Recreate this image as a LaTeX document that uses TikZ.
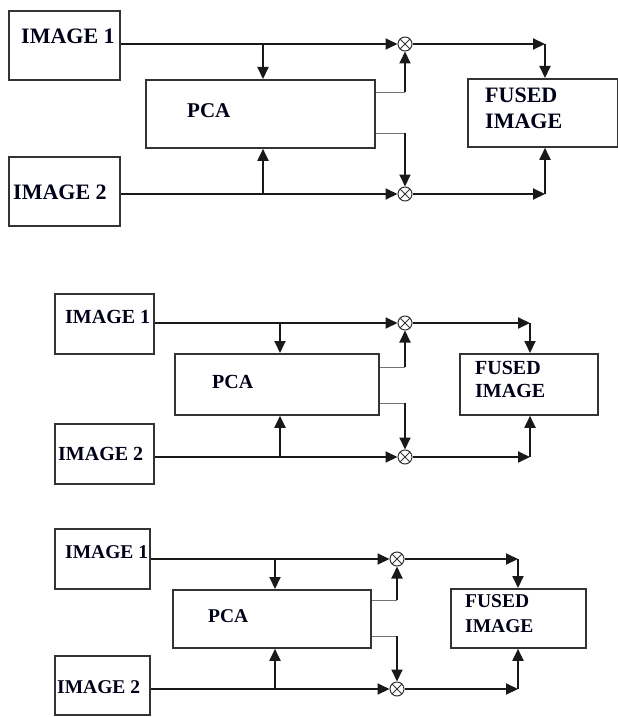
\documentclass[tikz,border=0pt]{standalone}
\usepackage{fontspec}
\setmainfont{Liberation Serif}
\usetikzlibrary{arrows.meta}
\begin{document}
\begin{tikzpicture}[x=1pt,y=-1pt,
  box/.style={draw=black!80, line width=1.8pt, inner sep=0pt, anchor=north west},
  lbl/.style={anchor=base west, inner sep=0pt, text=black!90!blue},
  big/.style={font=\bfseries\fontsize{22}{26}\selectfont},
  mid/.style={font=\bfseries\fontsize{20}{24}\selectfont},
  sml/.style={font=\bfseries\fontsize{19.5}{23}\selectfont},
  mult/.style={circle, draw=black!80, line width=1pt, minimum size=14pt, inner sep=0pt,
    path picture={\draw[line width=0.9pt] (path picture bounding box.north west) -- (path picture bounding box.south east)
      (path picture bounding box.north east) -- (path picture bounding box.south west);}},
  ln/.style={line width=1.9pt, draw=black!90},
  arr/.style={ln, -{Triangle[length=12pt,width=11pt]}},
  thinl/.style={line width=0.9pt, draw=black!55}
]
\useasboundingbox (0,0) rectangle (618,717);

% ---------- Diagram 1 ----------
\node[box, minimum width=111pt, minimum height=69pt] (a1A) at (8,10) {};
\node[lbl, big] (t1A) at (21,44) {IMAGE 1};
\node[box, minimum width=111pt, minimum height=69pt] (a2A) at (8,156) {};
\node[lbl, big] (t2A) at (13,199) {IMAGE 2};
\node[box, minimum width=229pt, minimum height=68pt] (pA) at (145,79) {};
\node[lbl, font=\bfseries\fontsize{21}{25}\selectfont] (tpA) at (187,117) {PCA};
\node[box, minimum width=150pt, minimum height=68pt] (fA) at (467,78) {};
\node[lbl, big] (tf1A) at (485,102) {FUSED};
\node[lbl, big] (tf2A) at (485,128) {IMAGE};
\node[mult] (m1A) at (405,44) {};
\node[mult] (m2A) at (405,194) {};
\coordinate (j1A) at (263,44);
\coordinate (k1A) at (263,194);
\coordinate (o1A) at (405,92);
\coordinate (o2A) at (405,133);
\coordinate (c1A) at (545,44);
\coordinate (c2A) at (545,194);
\draw[arr] (a1A.east |- m1A) -- (m1A.west);
\draw[arr] (j1A) -- (j1A |- pA.north);
\draw[arr] (a2A.east |- m2A) -- (m2A.west);
\draw[arr] (k1A) -- (k1A |- pA.south);
\draw[thinl] (pA.east |- o1A) -- (o1A);
\draw[arr] (o1A) -- (m1A.south);
\draw[thinl] (pA.east |- o2A) -- (o2A);
\draw[arr] (o2A) -- (m2A.north);
\draw[arr] (m1A.east) -- (c1A);
\draw[arr] (c1A) -- (c1A |- fA.north);
\draw[arr] (m2A.east) -- (c2A);
\draw[arr] (c2A) -- (c2A |- fA.south);

% ---------- Diagram 2 ----------
\node[box, minimum width=99pt, minimum height=60pt] (a1B) at (54,293) {};
\node[lbl, mid] (t1B) at (65,323) {IMAGE 1};
\node[box, minimum width=99pt, minimum height=60pt] (a2B) at (54,423) {};
\node[lbl, mid] (t2B) at (58,460) {IMAGE 2};
\node[box, minimum width=204pt, minimum height=61pt] (pB) at (174,353) {};
\node[lbl, mid] (tpB) at (212,388) {PCA};
\node[box, minimum width=138pt, minimum height=61pt] (fB) at (459,353) {};
\node[lbl, mid] (tf1B) at (475,374) {FUSED};
\node[lbl, mid] (tf2B) at (475,397) {IMAGE};
\node[mult] (m1B) at (405,323) {};
\node[mult] (m2B) at (405,457) {};
\coordinate (j1B) at (280,323);
\coordinate (k1B) at (280,457);
\coordinate (o1B) at (405,367);
\coordinate (o2B) at (405,403);
\coordinate (c1B) at (530,323);
\coordinate (c2B) at (530,457);
\draw[arr] (a1B.east |- m1B) -- (m1B.west);
\draw[arr] (j1B) -- (j1B |- pB.north);
\draw[arr] (a2B.east |- m2B) -- (m2B.west);
\draw[arr] (k1B) -- (k1B |- pB.south);
\draw[thinl] (pB.east |- o1B) -- (o1B);
\draw[arr] (o1B) -- (m1B.south);
\draw[thinl] (pB.east |- o2B) -- (o2B);
\draw[arr] (o2B) -- (m2B.north);
\draw[arr] (m1B.east) -- (c1B);
\draw[arr] (c1B) -- (c1B |- fB.north);
\draw[arr] (m2B.east) -- (c2B);
\draw[arr] (c2B) -- (c2B |- fB.south);

% ---------- Diagram 3 ----------
\node[box, minimum width=95pt, minimum height=60pt] (a1C) at (54,528) {};
\node[lbl, sml] (t1C) at (65,558) {IMAGE 1};
\node[box, minimum width=95pt, minimum height=59pt] (a2C) at (54,655) {};
\node[lbl, sml] (t2C) at (57,693) {IMAGE 2};
\node[box, minimum width=198pt, minimum height=58pt] (pC) at (172,589) {};
\node[lbl, sml] (tpC) at (208,622) {PCA};
\node[box, minimum width=135pt, minimum height=59pt] (fC) at (450,588) {};
\node[lbl, sml] (tf1C) at (465,607) {FUSED};
\node[lbl, sml] (tf2C) at (465,632) {IMAGE};
\node[mult] (m1C) at (397,559) {};
\node[mult] (m2C) at (397,689) {};
\coordinate (j1C) at (275,559);
\coordinate (k1C) at (275,689);
\coordinate (o1C) at (397,600);
\coordinate (o2C) at (397,636);
\coordinate (c1C) at (518,559);
\coordinate (c2C) at (518,689);
\draw[arr] (a1C.east |- m1C) -- (m1C.west);
\draw[arr] (j1C) -- (j1C |- pC.north);
\draw[arr] (a2C.east |- m2C) -- (m2C.west);
\draw[arr] (k1C) -- (k1C |- pC.south);
\draw[thinl] (pC.east |- o1C) -- (o1C);
\draw[arr] (o1C) -- (m1C.south);
\draw[thinl] (pC.east |- o2C) -- (o2C);
\draw[arr] (o2C) -- (m2C.north);
\draw[arr] (m1C.east) -- (c1C);
\draw[arr] (c1C) -- (c1C |- fC.north);
\draw[arr] (m2C.east) -- (c2C);
\draw[arr] (c2C) -- (c2C |- fC.south);
\end{tikzpicture}
\end{document}
